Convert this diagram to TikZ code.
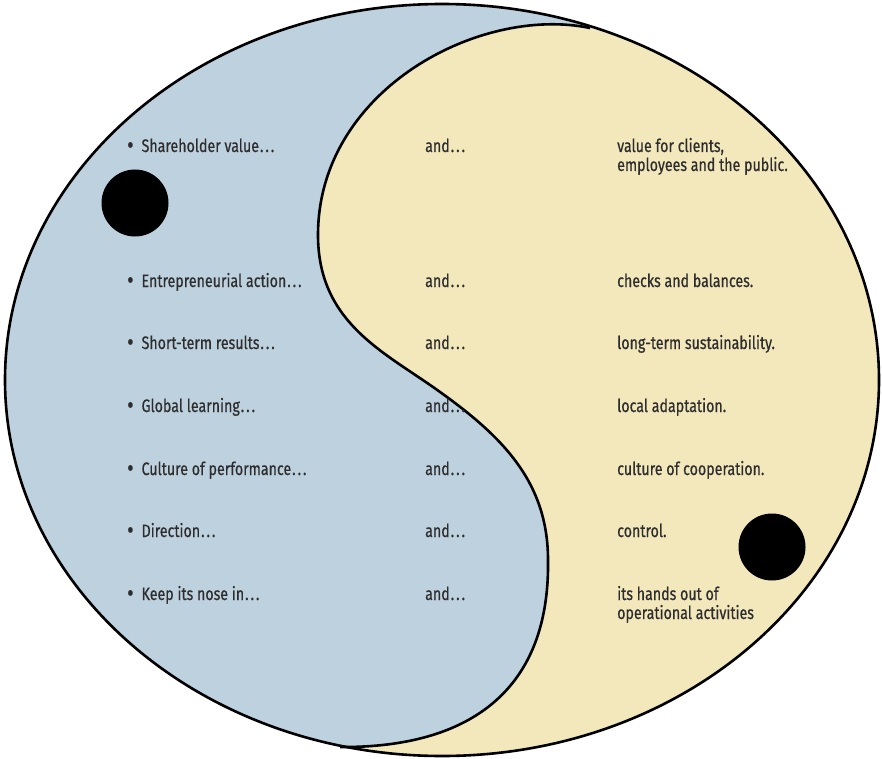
\documentclass[tikz,border=0pt]{standalone}
\usepackage{fontspec}
\setmainfont{Fira Sans}[FakeStretch=0.79, FakeBold=0.6]
\usepackage{tikz}
\usetikzlibrary{positioning}

\definecolor{yinblue}{RGB}{190,209,223}
\definecolor{yangsand}{RGB}{243,231,188}
\definecolor{inkgray}{RGB}{45,45,45}

% spaced ellipsis and bigger bullet
\newcommand{\trail}{\kern1pt.\kern2pt.\kern2pt.}
\newcommand{\blt}{{\fontsize{25}{19}\selectfont\raisebox{-1.5pt}{\textbullet}}\hspace{8pt}}

\begin{document}
\begin{tikzpicture}[
    x=1pt, y=-1pt,
    outline/.style={draw=black, line width=2.6pt},
    lefttxt/.style={anchor=base west, inner sep=0pt, text=inkgray, font=\fontsize{18}{19}\selectfont},
    andtxt/.style={lefttxt},
    righttxt/.style={lefttxt, align=left},
    spot/.style={circle, fill=black, minimum size=67pt, inner sep=0pt}
]
    \useasboundingbox (0,0) rectangle (882,759);

    % sand half = whole outer shape
    \fill[yangsand] (442,380) ellipse [x radius=437pt, y radius=376pt];

    % blue half
    \begin{scope}
        \clip (442,380) ellipse [x radius=437pt, y radius=376pt];
        \fill[yinblue] (590,28) .. controls (480,5) and (318,90) .. (318,235)
            .. controls (318,320) and (380,350) .. (433,387)
            .. controls (500,434) and (548,480) .. (548,560)
            .. controls (550,690) and (470,748) .. (340,747)
            -- (340,780) -- (-10,780) -- (-10,-10) -- (600,-10) -- cycle;
    \end{scope}

    % S-curve and outline
    \draw[outline] (590,28) .. controls (480,5) and (318,90) .. (318,235)
        .. controls (318,320) and (380,350) .. (433,387)
        .. controls (500,434) and (548,480) .. (548,560)
        .. controls (550,690) and (470,748) .. (340,747);
    \draw[outline] (442,380) ellipse [x radius=437pt, y radius=376pt];

    % the two spots
    \node[spot] (bluespot) at (135,203) {};
    \node[spot] (sandspot) at (772,547) {};

    % left column
    \node[lefttxt] (share) at (127,152) {\blt Shareholder value\trail};
    \node[lefttxt] (entre) at (127,287) {\blt Entrepreneurial action\trail};
    \node[lefttxt] (short) at (127,349) {\blt Short-term results\trail};
    \node[lefttxt] (global) at (127,412) {\blt Global learning\trail};
    \node[lefttxt] (perf) at (127,475) {\blt Culture of performance\trail};
    \node[lefttxt] (direct) at (127,537) {\blt Direction\trail};
    \node[lefttxt] (nose) at (127,600) {\blt Keep its nose in\trail};

    % middle column
    \node[andtxt] (and1) at (425,152) {and\trail};
    \node[andtxt] (and2) at (425,287) {and\trail};
    \node[andtxt] (and3) at (425,349) {and\trail};
    \node[andtxt] (and4) at (425,412) {and\trail};
    \node[andtxt] (and5) at (425,475) {and\trail};
    \node[andtxt] (and6) at (425,537) {and\trail};
    \node[andtxt] (and7) at (425,600) {and\trail};

    % right column (base = last line)
    \node[righttxt] (clients) at (617,171) {value for clients,\\employees and the public.};
    \node[righttxt] (checks) at (617,287) {checks and balances.};
    \node[righttxt] (longterm) at (617,349) {long-term sustainability.};
    \node[righttxt] (local) at (617,412) {local adaptation.};
    \node[righttxt] (coop) at (617,475) {culture of cooperation.};
    \node[righttxt] (control) at (617,537) {control.};
    \node[righttxt] (hands) at (617,619) {its hands out of\\operational activities};
\end{tikzpicture}
\end{document}
